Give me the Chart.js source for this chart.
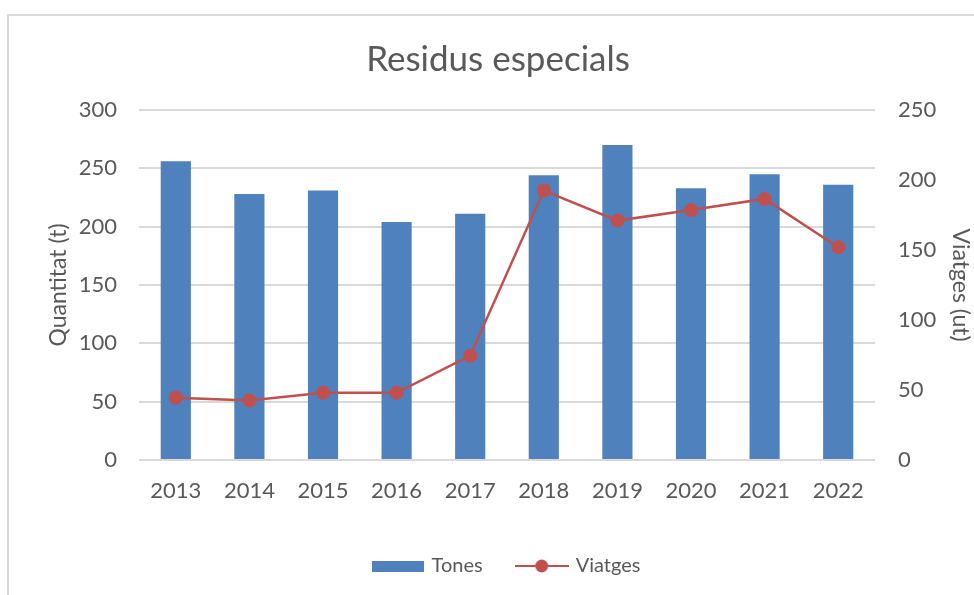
<!DOCTYPE html>
<html>
<head>
<meta charset="utf-8">
<script src="https://cdn.jsdelivr.net/npm/chart.js@4/dist/chart.umd.min.js"></script>
<style>
  html, body { margin: 0; padding: 0; background: #ffffff; }
  #wrap { width: 974px; height: 595px; position: relative; }
</style>
</head>
<body>
<div id="wrap"><canvas id="c" width="974" height="595"></canvas></div>
<script>
const years = ['2013','2014','2015','2016','2017','2018','2019','2020','2021','2022'];
const tones = [256, 228, 231, 204, 211, 244, 270, 233, 245, 236];
const viatges = [44.5, 42.5, 48, 48, 74.5, 192.5, 171, 178.5, 186.5, 152];
const leftTicks = [0, 50, 100, 150, 200, 250, 300];
const rightTicks = [0, 50, 100, 150, 200, 250];

const BLUE = '#4F81BD';
const RED = '#C0504D';
const TEXT = '#595959';
const GRID = '#D9D9D9';
const FONT = 'Lato, "Open Sans", sans-serif';

function makeBarIcon() {
  const c = document.createElement('canvas');
  c.width = 52; c.height = 11;
  const x = c.getContext('2d');
  x.fillStyle = BLUE; x.fillRect(0, 0, 52, 11);
  return c;
}
function makeLineIcon() {
  const c = document.createElement('canvas');
  c.width = 54; c.height = 14;
  const x = c.getContext('2d');
  x.strokeStyle = RED; x.lineWidth = 2;
  x.beginPath(); x.moveTo(0, 7); x.lineTo(54, 7); x.stroke();
  x.fillStyle = RED;
  x.beginPath(); x.arc(27, 7, 6.5, 0, Math.PI * 2); x.fill();
  return c;
}
const barIcon = makeBarIcon();
const lineIcon = makeLineIcon();

const frame = {
  id: 'frame',
  beforeDraw(chart) {
    const ctx = chart.ctx;
    ctx.save();
    ctx.fillStyle = '#ffffff';
    ctx.fillRect(0, 0, chart.width, chart.height);
    ctx.strokeStyle = GRID;
    ctx.lineWidth = 2;
    ctx.strokeRect(8, 15, chart.width + 20, chart.height + 20);
    ctx.restore();
  }
};

new Chart(document.getElementById('c'), {
  type: 'bar',
  data: {
    labels: years,
    datasets: [
      {
        type: 'line',
        label: 'Viatges',
        data: viatges,
        yAxisID: 'y2',
        borderColor: RED,
        backgroundColor: RED,
        borderWidth: 2.5,
        pointRadius: 7,
        pointHoverRadius: 7,
        pointBackgroundColor: RED,
        pointBorderWidth: 0,
        tension: 0,
        order: 1
      },
      {
        type: 'bar',
        label: 'Tones',
        data: tones,
        yAxisID: 'y',
        backgroundColor: BLUE,
        borderWidth: 0,
        barPercentage: 0.41,
        categoryPercentage: 1,
        order: 2
      }
    ]
  },
  options: {
    responsive: false,
    animation: false,
    devicePixelRatio: 1,
    layout: { padding: { left: 22, right: 0, top: 0, bottom: 9 } },
    plugins: {
      title: {
        display: true,
        text: 'Residus especials',
        color: TEXT,
        font: { family: FONT, size: 35, weight: 'normal' },
        padding: { top: 39, bottom: 29 }
      },
      legend: {
        display: true,
        position: 'bottom',
        fullSize: false,
        labels: {
          usePointStyle: true,
          pointStyleWidth: 48,
          padding: 35,
          color: TEXT,
          font: { family: FONT, size: 20 },
          generateLabels(chart) {
            return [
              { text: 'Tones', pointStyle: barIcon, fillStyle: BLUE, strokeStyle: BLUE, lineWidth: 0, fontColor: TEXT, hidden: false, datasetIndex: 1 },
              { text: 'Viatges', pointStyle: lineIcon, fillStyle: RED, strokeStyle: RED, lineWidth: 0, fontColor: TEXT, hidden: false, datasetIndex: 0 }
            ];
          }
        }
      },
      tooltip: { enabled: false }
    },
    scales: {
      x: {
        grid: { display: false, drawTicks: false },
        border: { display: false },
        ticks: { color: TEXT, font: { family: FONT, size: 22 }, padding: 18, maxRotation: 0 },
        afterFit(s) { s.height = 61; }
      },
      y: {
        position: 'left',
        min: 0, max: 300,
        afterBuildTicks(s) { s.ticks = leftTicks.map(v => ({ value: v })); },
        grid: { color: GRID, lineWidth: 2, drawTicks: false },
        border: { display: false },
        ticks: { color: TEXT, font: { family: FONT, size: 22 }, padding: 22 },
        title: { display: true, text: 'Quantitat (t)', color: TEXT, font: { family: FONT, size: 23 }, padding: { top: 23, bottom: 0 } },
        afterFit(s) { s.width = 117; }
      },
      y2: {
        position: 'right',
        min: 0, max: 250,
        afterBuildTicks(s) { s.ticks = rightTicks.map(v => ({ value: v })); },
        grid: { display: false, drawTicks: false },
        border: { display: false },
        ticks: { color: TEXT, font: { family: FONT, size: 22 }, padding: 23 },
        title: { display: true, text: 'Viatges (ut)', color: TEXT, font: { family: FONT, size: 23 }, padding: { top: 0, bottom: 0 } },
        afterFit(s) { s.width = 99; }
      }
    }
  },
  plugins: [frame]
});
</script>
</body>
</html>
